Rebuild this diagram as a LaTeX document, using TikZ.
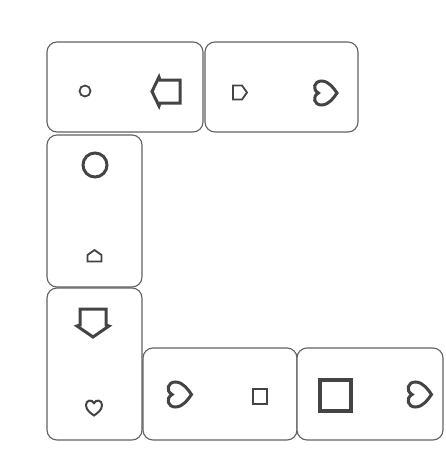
\documentclass[tikz,border=0pt]{standalone}
\usetikzlibrary{calc}
\definecolor{cardline}{HTML}{626262}
\definecolor{ink}{HTML}{444444}
\newcommand\hrtpath{(0,-1) .. controls (-0.35,-0.75) and (-1,-0.35) .. (-1,0.3) .. controls (-1,0.9) and (-0.3,1.1) .. (0,0.55) .. controls (0.3,1.1) and (1,0.9) .. (1,0.3) .. controls (1,-0.35) and (0.35,-0.75) .. (0,-1) -- cycle}
\tikzset{
  card/.style={draw=cardline, line width=1.1pt, rounded corners=10pt, fill=white, inner sep=0pt},
  sym/.style={draw=ink, line join=miter},
  heartR/.style={x={(0pt,#1)}, y={(-#1,0pt)}},
  heartD/.style={x={(#1,0pt)}, y={(0pt,#1)}},
}
\begin{document}
\begin{tikzpicture}[x=1pt,y=-1pt]
\useasboundingbox[fill=white] (0,0) rectangle (445,469);
% cards
\node[card, minimum width=156pt, minimum height=90pt] (c1) at (125,87) {};
\node[card, minimum width=153pt, minimum height=90pt] (c2) at (281.5,87) {};
\node[card, minimum width=95pt, minimum height=152pt] (c3) at (94.5,211) {};
\node[card, minimum width=95pt, minimum height=152pt] (c4) at (94.5,364) {};
\node[card, minimum width=154pt, minimum height=92pt] (c5) at (220,394) {};
\node[card, minimum width=146pt, minimum height=92pt] (c6) at (370,394) {};
% card 1
\draw[sym, line width=1.8pt] (85,91) circle[radius=5.5];
\draw[sym, line width=3pt] (160,80) -- (180,80) -- (180,103) -- (160,103) -- (159,106) -- (152,91.5) -- (159,77) -- cycle;
% card 2
\draw[sym, line width=1.8pt] (233,85.5) -- (242,85.5) -- (247,92.5) -- (242,99.5) -- (233,99.5) -- cycle;
\draw[sym, line width=3pt, shift={(325,93)}, heartR=12pt] \hrtpath;
% card 3
\draw[sym, line width=3pt] (95,165) circle[radius=12];
\draw[sym, line width=1.8pt] (87.5,261.5) -- (101.5,261.5) -- (101.5,255) -- (94.5,250) -- (87.5,255) -- cycle;
% card 4
\draw[sym, line width=3pt] (80,309) -- (106,309) -- (106,325) -- (109,326) -- (93,337) -- (77,326) -- (80,325) -- cycle;
\draw[sym, line width=2pt, shift={(94,407.5)}, heartD=8pt] \hrtpath;
% card 5
\draw[sym, line width=3pt, shift={(179,394.5)}, heartR=12.5pt] \hrtpath;
\draw[sym, line width=1.8pt] (253,389) rectangle (267,404);
% card 6
\draw[sym, line width=4pt] (320,380) rectangle (351,411);
\draw[sym, line width=3pt, shift={(419,394.5)}, heartR=12.5pt] \hrtpath;
\end{tikzpicture}
\end{document}
